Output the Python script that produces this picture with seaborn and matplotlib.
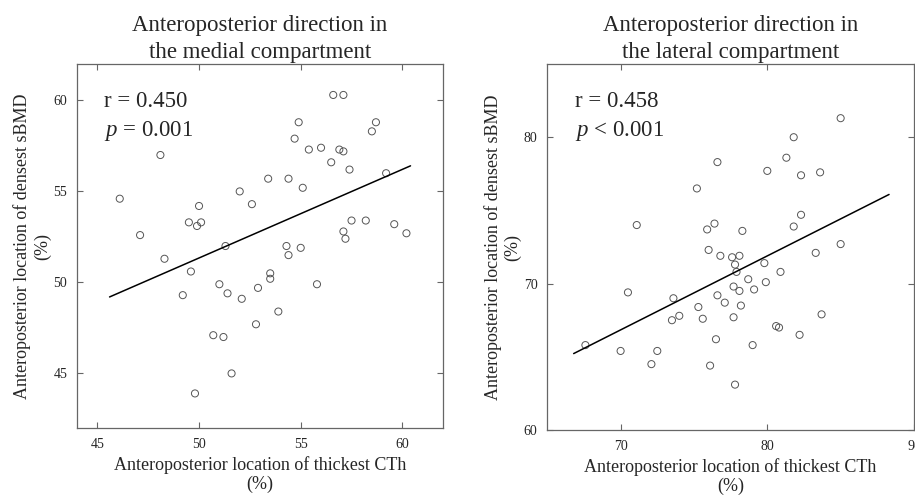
import numpy as np
import pandas as pd
import matplotlib
matplotlib.use("Agg")
import matplotlib.pyplot as plt
import seaborn as sns

# Medial compartment: location of thickest CTh (%) vs densest sBMD (%)
medial_cth = [56.6, 57.1, 54.9, 58.7, 58.5, 54.7, 48.1, 55.4, 56.0, 56.9,
              57.1, 56.5, 57.4, 59.2, 53.4, 54.4, 55.1, 46.1, 52.0, 52.6,
              50.0, 49.5, 50.1, 49.9, 57.5, 58.2, 59.6, 57.1, 57.2, 47.1,
              51.3, 54.3, 55.0, 54.4, 48.3, 53.5, 53.5, 49.6, 51.0, 55.8,
              52.9, 51.4, 49.2, 52.1, 53.9, 52.8, 50.7, 51.2, 51.6, 49.8,
              60.2]
medial_sbmd = [60.3, 60.3, 58.8, 58.8, 58.3, 57.9, 57.0, 57.3, 57.4, 57.3,
               57.2, 56.6, 56.2, 56.0, 55.7, 55.7, 55.2, 54.6, 55.0, 54.3,
               54.2, 53.3, 53.3, 53.1, 53.4, 53.4, 53.2, 52.8, 52.4, 52.6,
               52.0, 52.0, 51.9, 51.5, 51.3, 50.5, 50.2, 50.6, 49.9, 49.9,
               49.7, 49.4, 49.3, 49.1, 48.4, 47.7, 47.1, 47.0, 45.0, 43.9,
               52.7]

# Lateral compartment
lateral_cth = [85.0, 81.8, 81.3, 76.6, 80.0, 82.3, 83.6, 75.2, 82.3, 81.8,
               71.1, 76.4, 75.9, 78.3, 85.0, 76.0, 76.8, 77.6, 78.1, 83.3,
               77.8, 79.8, 77.9, 80.9, 78.7, 79.9, 70.5, 77.7, 78.1, 79.1,
               76.6, 73.6, 77.1, 75.3, 78.2, 74.0, 73.5, 75.6, 77.7, 83.7,
               80.6, 80.8, 82.2, 76.5, 67.6, 79.0, 70.0, 72.5, 72.1, 76.1,
               77.8]
lateral_sbmd = [81.3, 80.0, 78.6, 78.3, 77.7, 77.4, 77.6, 76.5, 74.7, 73.9,
                74.0, 74.1, 73.7, 73.6, 72.7, 72.3, 71.9, 71.8, 71.9, 72.1,
                71.3, 71.4, 70.8, 70.8, 70.3, 70.1, 69.4, 69.8, 69.5, 69.6,
                69.2, 69.0, 68.7, 68.4, 68.5, 67.8, 67.5, 67.6, 67.7, 67.9,
                67.1, 67.0, 66.5, 66.2, 65.8, 65.8, 65.4, 65.4, 64.5, 64.4,
                63.1]

# extent of the drawn regression lines
medial_fit_range = (45.6, 60.4)
lateral_fit_range = (66.8, 88.3)

medial_xticks = [45, 50, 55, 60]
medial_yticks = [45, 50, 55, 60]
lateral_xticks = [70, 80, 90]
lateral_yticks = [60, 70, 80]

sns.set_style("ticks")
plt.rcParams["font.family"] = ["Liberation Serif", "DejaVu Serif"]
plt.rcParams["mathtext.fontset"] = "custom"
plt.rcParams["mathtext.rm"] = "Liberation Serif"
plt.rcParams["mathtext.it"] = "Liberation Serif:italic"

fig = plt.figure(figsize=(9.15, 4.97), dpi=100)
ax1 = fig.add_axes([0.0842, 0.1388, 0.400, 0.7324])
ax2 = fig.add_axes([0.5981, 0.1348, 0.4008, 0.7364])


def draw_panel(ax, x, y, fit_range, xlim, ylim, xticks, yticks, title, r_txt, p_txt):
    df = pd.DataFrame({"cth": x, "sbmd": y})
    # set the limits first so the fitted line spans fit_range
    ax.set_xlim(fit_range)
    sns.regplot(data=df, x="cth", y="sbmd", ax=ax, ci=None, truncate=False,
                scatter_kws=dict(facecolors="none", edgecolors="#555555", color="#555555",
                                 s=26, linewidths=0.7, alpha=1),
                line_kws=dict(color="black", lw=1.1))
    ax.set_xlim(xlim)
    ax.set_ylim(ylim)
    ax.set_xticks(xticks)
    ax.set_yticks(yticks)
    ax.tick_params(direction="in", top=True, right=True, length=4, width=0.8,
                   color="#666666", labelsize=10, pad=7)
    for s in ax.spines.values():
        s.set_color("#666666")
        s.set_linewidth(0.9)
    ax.set_title(title, fontsize=16.5, pad=4, linespacing=1.38)
    ax.set_xlabel("Anteroposterior location of thickest CTh\n(%)", fontsize=13, labelpad=4,
                  linespacing=1.15)
    ax.set_ylabel("Anteroposterior location of densest sBMD\n(%)", fontsize=13, labelpad=1.5)
    ax.text(0.075, 0.925, r_txt, transform=ax.transAxes, va="top", fontsize=16.5)
    ax.text(0.075, 0.85, p_txt, transform=ax.transAxes, va="top", fontsize=16.5)


draw_panel(ax1, medial_cth, medial_sbmd, medial_fit_range, (44, 62), (42, 62),
           medial_xticks, medial_yticks,
           "Anteroposterior direction in\nthe medial compartment",
           "r = 0.450", "$p$ = 0.001")
draw_panel(ax2, lateral_cth, lateral_sbmd, lateral_fit_range, (65, 90), (60, 85),
           lateral_xticks, lateral_yticks,
           "Anteroposterior direction in\nthe lateral compartment",
           "r = 0.458", "$p$ < 0.001")

fig.savefig("out.png", dpi=100)
